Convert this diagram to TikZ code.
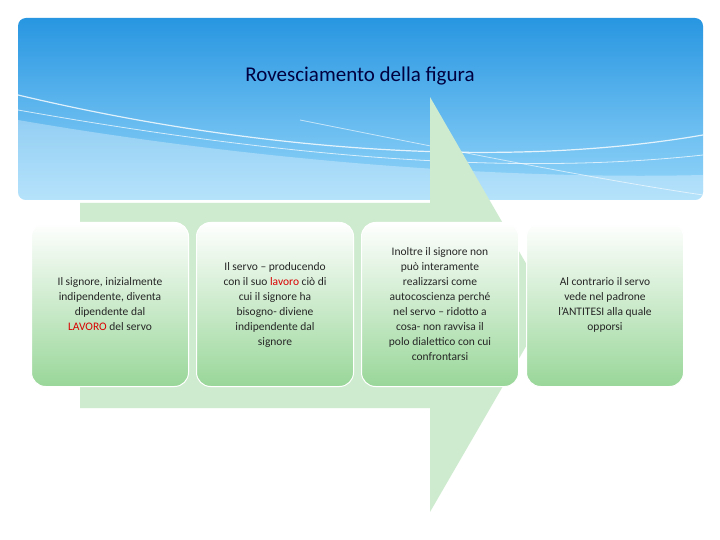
\documentclass[tikz,border=0pt]{standalone}
\usepackage{fontspec}
\setmainfont{Carlito}
\begin{document}
\begin{tikzpicture}[x=1pt,y=-1pt,
  box/.style={rounded corners=14pt,top color=white,bottom color=green!60!black!40!white,draw=white,line width=1pt,minimum width=157pt,minimum height=164pt,anchor=north west,inner sep=0pt},
  txt/.style={align=center,font=\fontsize{11.5}{15}\selectfont,text=black!85}]
\useasboundingbox (0,0) rectangle (720,540);
\fill[white] (0,0) rectangle (720,540);
\shade[rounded corners=8pt,top color={rgb,255:red,40;green,150;blue,225},bottom color={rgb,255:red,150;green,215;blue,250}] (18,18) rectangle (703,200);
\begin{scope}
\clip[rounded corners=8pt] (18,18) rectangle (703,200);
\fill[white,opacity=0.3] (18,120) .. controls (250,160) and (500,180) .. (703,175) -- (703,200) -- (18,200) -- cycle;
\draw[white,line width=1.2pt,opacity=0.8] (18,95) .. controls (250,150) and (500,170) .. (703,135);
\draw[white,line width=0.8pt,opacity=0.7] (18,110) .. controls (300,160) and (520,175) .. (703,155);
\draw[white,line width=0.8pt,opacity=0.6] (300,120) .. controls (450,150) and (600,180) .. (703,195);
\end{scope}
\fill[green!12!white!92!black] (80,203) -- (430,203) -- (430,97) -- (550,305) -- (430,512) -- (430,408) -- (80,408) -- cycle;
\node (title) at (360,76) {\fontsize{21}{24}\selectfont\color{black!75!blue}Rovesciamento della figura};
\node[box] (b1) at (31,222) {};
\node[box] (b2) at (196,222) {};
\node[box] (b3) at (361,222) {};
\node[box] (b4) at (526,222) {};
\node[txt] at (b1) {Il signore, inizialmente\\indipendente, diventa\\dipendente dal\\\textcolor{red!85!black}{LAVORO} del servo};
\node[txt] at (b2) {Il servo – producendo\\con il suo \textcolor{red!85!black}{lavoro} ciò di\\cui il signore ha\\bisogno- diviene\\indipendente dal\\signore};
\node[txt] at (b3) {Inoltre il signore non\\può interamente\\realizzarsi come\\autocoscienza perché\\nel servo – ridotto a\\cosa- non ravvisa il\\polo dialettico con cui\\confrontarsi};
\node[txt] at (b4) {Al contrario il servo\\vede nel padrone\\l’ANTITESI alla quale\\opporsi};
\end{tikzpicture}
\end{document}
